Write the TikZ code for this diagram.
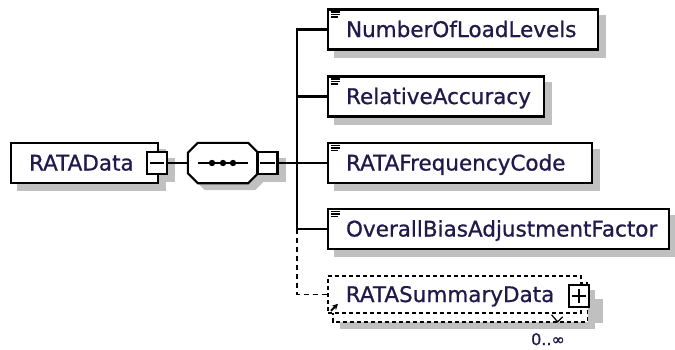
\documentclass[tikz,border=0pt]{standalone}
\usepackage{fontspec}
\setmainfont[FakeBold=0.8]{DejaVu Sans}
\usetikzlibrary{calc,backgrounds,arrows.meta}
\definecolor{txt}{RGB}{32,26,75}
\definecolor{shd}{RGB}{192,192,192}
\begin{document}
\begin{tikzpicture}[x=1pt,y=-1pt,
  box/.style={draw=black, line width=2.1pt, fill=white, rectangle, minimum height=40pt,
    inner xsep=18pt, inner ysep=0pt, text height=17pt, text depth=2pt, anchor=west,
    font=\fontsize{21.5}{24}\selectfont, text=txt},
  dbox/.style={draw=black, line width=1.6pt, dash pattern=on 4pt off 3pt, fill=white},
  pm/.style={draw=black, line width=2.1pt, fill=white, rectangle, minimum width=20pt,
    minimum height=22pt, inner sep=0pt},
  conn/.style={line width=2.1pt},
  dconn/.style={line width=1.8pt, dash pattern=on 5pt off 4pt},
  icon/.style={line width=1.3pt},
]
\useasboundingbox (0,0) rectangle (675,349);

% root element
\node[box] (root) at (10,163) {\makebox[111pt][l]{RATAData}};
\node[pm] (rootpm) at (157,163) {};
\draw[line width=1.6pt] ($(rootpm.west)+(4,0)$) -- ($(rootpm.east)+(-4,0)$);

% sequence compositor
\node[minimum width=70pt, minimum height=40pt, inner sep=0pt] (seq) at (223,163) {};
\draw[line width=2.1pt, fill=white]
  ($(seq.north west)+(10,0)$) -- ($(seq.north east)+(-10,0)$) -- ($(seq.north east)+(0,10)$)
  -- ($(seq.south east)+(0,-10)$) -- ($(seq.south east)+(-10,0)$) -- ($(seq.south west)+(10,0)$)
  -- ($(seq.south west)+(0,-10)$) -- ($(seq.north west)+(0,10)$) -- cycle;
\draw[line width=1.6pt] ($(seq.west)+(10,0)$) -- ($(seq.east)+(-10,0)$);
\foreach \dx in {-11,0,10} \fill ($(seq.center)+(\dx,0)$) circle (3.2pt);
\node[pm] (seqpm) at (267.5,163) {};
\draw[line width=1.6pt] ($(seqpm.west)+(4,0)$) -- ($(seqpm.east)+(-4,0)$);

% child elements
\node[box] (e1) at (327,29.5) {\makebox[234pt][l]{NumberOfLoadLevels}};
\node[box] (e2) at (327,96.5) {\makebox[180pt][l]{RelativeAccuracy}};
\node[box] (e3) at (327,163) {\makebox[228pt][l]{RATAFrequencyCode}};
\node[box] (e4) at (327,229) {\makebox[305pt][l]{OverallBiasAdjustmentFactor}};
\foreach \n in {e1,e2,e3,e4} {
  \draw[icon] ($(\n.north west)+(3.5,3.5)$) -- ++(9,0);
  \draw[icon] ($(\n.north west)+(3.5,6)$) -- ++(9,0);
  \draw[icon] ($(\n.north west)+(3.5,8.5)$) -- ++(7,0);
}

% RATASummaryData (reference, 0..unbounded)
\node[box, dbox, minimum height=37pt] (sumA) at (327,294.5) {\makebox[217pt][l]{RATASummaryData}};
\node[pm] (sumpm) at (579,296) {};
\draw[line width=1.6pt] ($(sumpm.west)+(4,0)$) -- ($(sumpm.east)+(-4,0)$);
\draw[line width=1.6pt] ($(sumpm.north)+(0,5)$) -- ($(sumpm.south)+(0,-5)$);
\draw[line width=2pt, -{Stealth[length=6pt,width=6pt]}]
  ($(sumA.south west)+(4,-3)$) -- ($(sumA.south west)+(11,-10)$);
\draw[line width=1.2pt] ($(sumA.south east)+(-30,1)$) -- ($(sumA.south east)+(-24,8)$) -- ($(sumA.south east)+(-19,3)$);
\node[anchor=base, font=\fontsize{16}{18}\selectfont, text=txt, inner sep=0pt] (occ) at (548,345) {0..∞};

% connectors
\coordinate (bus) at (297,163);
\draw[conn] (rootpm.east) -- (seq.west);
\draw[conn] (seqpm.east) -- (e3.west);
\draw[conn] (e1.west) -- (e1.west -| bus) -- (e4.west -| bus) -- (e4.west);
\draw[conn] (e2.west) -- (e2.west -| bus);
\draw[dconn] (e4.west -| bus) -- (sumA.west -| bus) -- (sumA.west);

% shadows and back copy
\begin{scope}[on background layer]
  \foreach \n in {root,rootpm,seqpm,e1,e2,e3,e4}
    \fill[shd] ($(\n.north west)+(7,7)$) rectangle ($(\n.south east)+(7,7)$);
  \fill[shd]
    ($(seq.north west)+(17,7)$) -- ($(seq.north east)+(-3,7)$) -- ($(seq.north east)+(7,17)$)
    -- ($(seq.south east)+(7,-3)$) -- ($(seq.south east)+(-3,7)$) -- ($(seq.south west)+(17,7)$)
    -- ($(seq.south west)+(7,-3)$) -- ($(seq.north west)+(7,17)$) -- cycle;
  \fill[shd] ($(sumA.north west)+(13,15)$) rectangle ($(sumA.south east)+(13,15)$);
  \fill[shd] ($(sumpm.north west)+(13,15)$) rectangle ($(sumpm.south east)+(13,15)$);
  \draw[dbox] ($(sumA.north west)+(6,8)$) rectangle ($(sumA.south east)+(6,8)$);
\end{scope}
\end{tikzpicture}
\end{document}
